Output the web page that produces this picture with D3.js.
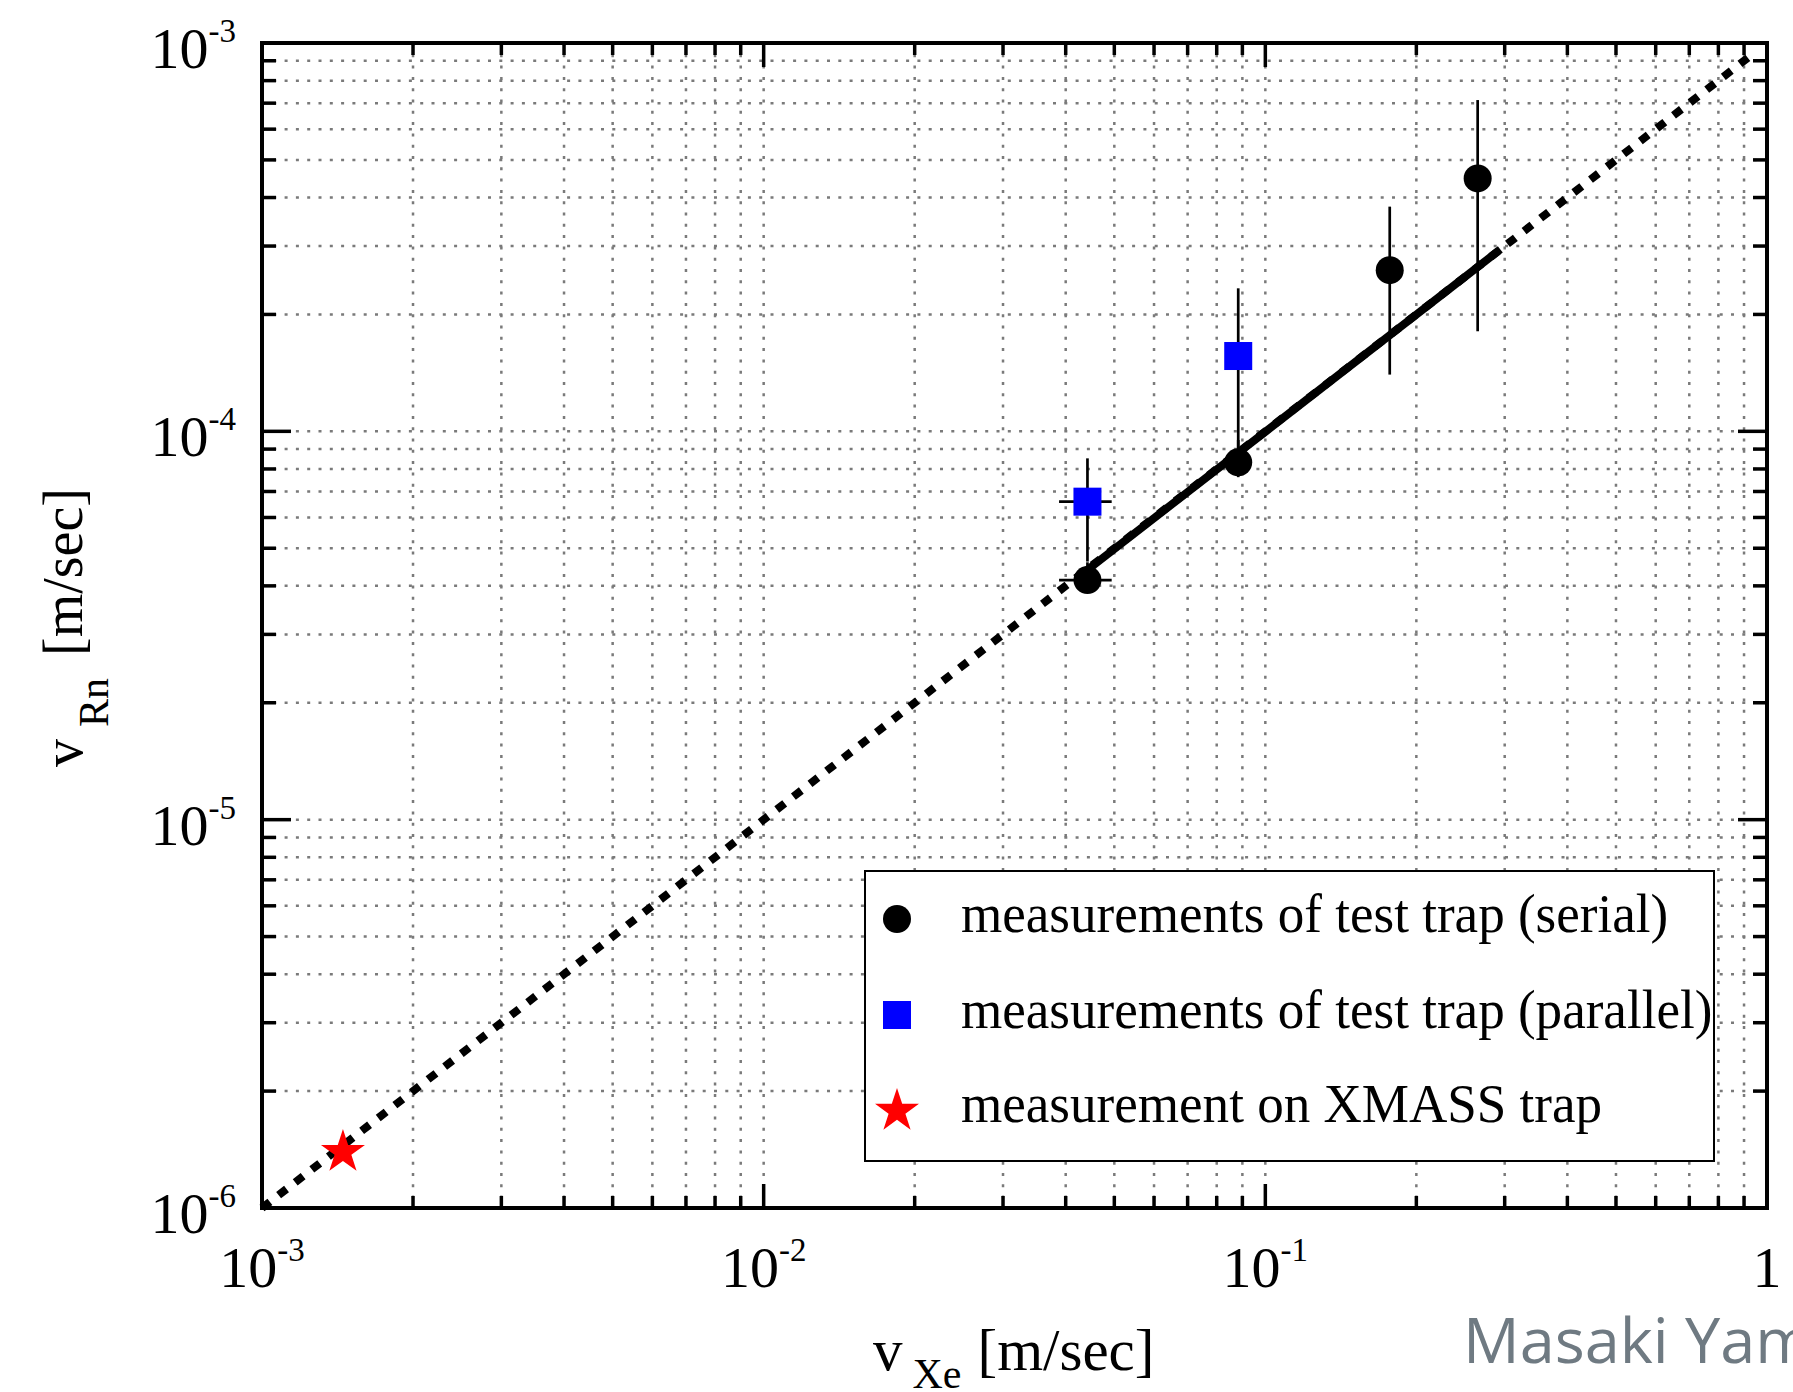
<!DOCTYPE html>
<html>
<head>
<meta charset="utf-8">
<script src="https://cdn.jsdelivr.net/npm/d3@7"></script>
<style>
  body { margin: 0; background: #fff; }
  svg { display: block; }
  text { font-family: "Liberation Serif", "Times New Roman", serif; fill: #000; }
</style>
</head>
<body>
<script>
// serial measurements of the test trap
const serialX = [0.0442, 0.0883, 0.177, 0.265];
const serialY = [4.14e-5, 8.32e-5, 2.60e-4, 4.48e-4];
const serialYLo = [3.95e-5, 7.62e-5, 1.40e-4, 1.81e-4];
const serialYHi = [4.60e-5, 9.5e-5, 3.79e-4, 7.13e-4];
const serialXLo = [0.0388, 0.0883, 0.177, 0.265];
const serialXHi = [0.0494, 0.0883, 0.177, 0.265];

// parallel measurements of the test trap
const parallelX = [0.0442, 0.0883];
const parallelY = [6.59e-5, 1.563e-4];
const parallelYLo = [4.62e-5, 8.7e-5];
const parallelYHi = [8.52e-5, 2.335e-4];
const parallelXLo = [0.0388, 0.0883];
const parallelXHi = [0.0494, 0.0883];

// XMASS trap
const xmassX = [1.45e-3];
const xmassY = [1.41e-6];

// reference lines
const dottedLine = [[1e-3, 1e-6], [0.92, 9.2e-4]];
const solidLine = [[0.0442, 4.4e-5], [0.294, 2.94e-4]];

const xTickLabels = [[1e-3, '10', '-3'], [1e-2, '10', '-2'], [1e-1, '10', '-1'], [1, '1', '']];
const yTickLabels = [[1e-3, '-3'], [1e-4, '-4'], [1e-5, '-5'], [1e-6, '-6']];
const legendLabels = [
  'measurements of test trap (serial)',
  'measurements of test trap (parallel)',
  'measurement on XMASS trap'
];

const W = 1793, H = 1392;
const pL = 262, pR = 1767, pT = 43, pB = 1208;

const svg = d3.select('body').append('svg').attr('width', W).attr('height', H);
svg.append('rect').attr('width', W).attr('height', H).attr('fill', '#fff');

const x = d3.scaleLog().domain([1e-3, 1]).range([pL, pR]);
const y = d3.scaleLog().domain([1e-6, 1e-3]).range([pB, pT]);

// all ticks 1..9 per decade
function logTicks(lo, hi) {
  const out = [];
  for (let e = lo; e < hi; e++) {
    for (let m = 1; m <= 9; m++) out.push(m * Math.pow(10, e));
  }
  out.push(Math.pow(10, hi));
  return out;
}
const xTicks = logTicks(-3, 0);
const yTicks = logTicks(-6, -3);
const isMajor = (v) => Math.abs(Math.log10(v) - Math.round(Math.log10(v))) < 1e-6;

// grid
const grid = svg.append('g').attr('stroke', '#7a7a7a').attr('stroke-width', 2.5)
  .attr('stroke-dasharray', '3,8.3');
grid.selectAll('.gx').data(xTicks.filter((v) => v > 1.001e-3 && v < 0.999)).join('line')
  .attr('x1', (d) => x(d)).attr('x2', (d) => x(d)).attr('y1', pT).attr('y2', pB);
grid.selectAll('.gy').data(yTicks.filter((v) => v > 1.001e-6 && v < 0.999e-3)).join('line')
  .attr('y1', (d) => y(d)).attr('y2', (d) => y(d)).attr('x1', pL).attr('x2', pR);

// lines
const line = d3.line().x((d) => x(d[0])).y((d) => y(d[1]));
svg.append('path').attr('d', line(dottedLine)).attr('fill', 'none')
  .attr('stroke', '#000').attr('stroke-width', 8).attr('stroke-dasharray', '10,11');
svg.append('path').attr('d', line(solidLine)).attr('fill', 'none')
  .attr('stroke', '#000').attr('stroke-width', 8);

// error bars
function errorBars(xs, ys, xlo, xhi, ylo, yhi) {
  const g = svg.append('g').attr('stroke', '#000').attr('stroke-width', 2.7);
  xs.forEach((v, i) => {
    g.append('line').attr('x1', x(v)).attr('x2', x(v)).attr('y1', y(ylo[i])).attr('y2', y(yhi[i]));
    if (xlo[i] !== xhi[i]) {
      g.append('line').attr('x1', x(xlo[i])).attr('x2', x(xhi[i])).attr('y1', y(ys[i])).attr('y2', y(ys[i]));
    }
  });
}
errorBars(serialX, serialY, serialXLo, serialXHi, serialYLo, serialYHi);
errorBars(parallelX, parallelY, parallelXLo, parallelXHi, parallelYLo, parallelYHi);

// markers
svg.append('g').selectAll('circle').data(d3.zip(serialX, serialY)).join('circle')
  .attr('cx', (d) => x(d[0])).attr('cy', (d) => y(d[1])).attr('r', 14).attr('fill', '#000');
svg.append('g').selectAll('rect').data(d3.zip(parallelX, parallelY)).join('rect')
  .attr('x', (d) => x(d[0]) - 14).attr('y', (d) => y(d[1]) - 14)
  .attr('width', 28).attr('height', 28).attr('fill', '#0000ff');
const star = d3.symbol(d3.symbolStar, 600);
svg.append('g').selectAll('path').data(d3.zip(xmassX, xmassY)).join('path')
  .attr('d', star).attr('transform', (d) => `translate(${x(d[0])},${y(d[1]) + 2})`)
  .attr('fill', '#ff0000');

// legend
const lg = svg.append('g');
lg.append('rect').attr('x', 865).attr('y', 871).attr('width', 849).attr('height', 290)
  .attr('fill', '#fff').attr('stroke', '#000').attr('stroke-width', 2);
const legRows = [919, 1015, 1109];
lg.append('circle').attr('cx', 897).attr('cy', legRows[0]).attr('r', 14).attr('fill', '#000');
lg.append('rect').attr('x', 883).attr('y', legRows[1] - 14).attr('width', 28).attr('height', 28).attr('fill', '#0000ff');
lg.append('path').attr('d', star).attr('transform', `translate(897,${legRows[2] + 2})`).attr('fill', '#ff0000');
lg.selectAll('text').data(legendLabels).join('text')
  .attr('transform', (d, i) => `translate(961,${legRows[i] + 13}) scale(0.965,1)`)
  .attr('font-size', 55).text((d) => d);

// frame and ticks
const ax = svg.append('g').attr('stroke', '#000').attr('stroke-width', 3.5);
xTicks.forEach((v) => {
  const len = isMajor(v) ? 24 : 12;
  ax.append('line').attr('x1', x(v)).attr('x2', x(v)).attr('y1', pB).attr('y2', pB - len);
  ax.append('line').attr('x1', x(v)).attr('x2', x(v)).attr('y1', pT).attr('y2', pT + len);
});
yTicks.forEach((v) => {
  const len = isMajor(v) ? 29 : 14;
  ax.append('line').attr('y1', y(v)).attr('y2', y(v)).attr('x1', pL).attr('x2', pL + len);
  ax.append('line').attr('y1', y(v)).attr('y2', y(v)).attr('x1', pR).attr('x2', pR - len);
});
svg.append('rect').attr('x', pL).attr('y', pT).attr('width', pR - pL).attr('height', pB - pT)
  .attr('fill', 'none').attr('stroke', '#000').attr('stroke-width', 4);

// tick labels
xTickLabels.forEach(([v, base, exp]) => {
  const t = svg.append('text').attr('x', x(v)).attr('y', 1287).attr('text-anchor', 'middle')
    .attr('font-size', 58);
  t.append('tspan').text(base);
  if (exp) t.append('tspan').attr('dy', -26).attr('font-size', 33).text(exp);
});
yTickLabels.forEach(([v, exp]) => {
  const t = svg.append('text').attr('x', 236).attr('y', y(v) + 25).attr('text-anchor', 'end')
    .attr('font-size', 58);
  t.append('tspan').text('10');
  t.append('tspan').attr('dy', -26).attr('font-size', 33).text(exp);
});

// axis titles
const xt = svg.append('text').attr('x', 873).attr('y', 1370).attr('font-size', 59);
xt.append('tspan').text('v');
xt.append('tspan').attr('dx', 10).attr('dy', 18).attr('font-size', 42).text('Xe');
xt.append('tspan').attr('dx', 16).attr('dy', -18).text('[m/sec]');

const yt = svg.append('text').attr('transform', 'translate(82,767) rotate(-90)').attr('font-size', 56);
yt.append('tspan').text('v');
yt.append('tspan').attr('dx', 12).attr('dy', 26).attr('font-size', 42).text('Rn');
yt.append('tspan').attr('dx', 22).attr('dy', -26).text('[m/sec]');

// watermark
svg.append('text').attr('x', 1463).attr('y', 1363).attr('font-size', 63)
  .style('font-family', '"Open Sans", sans-serif').style('fill', '#6f7a82')
  .text('Masaki Yam');
</script>
</body>
</html>
